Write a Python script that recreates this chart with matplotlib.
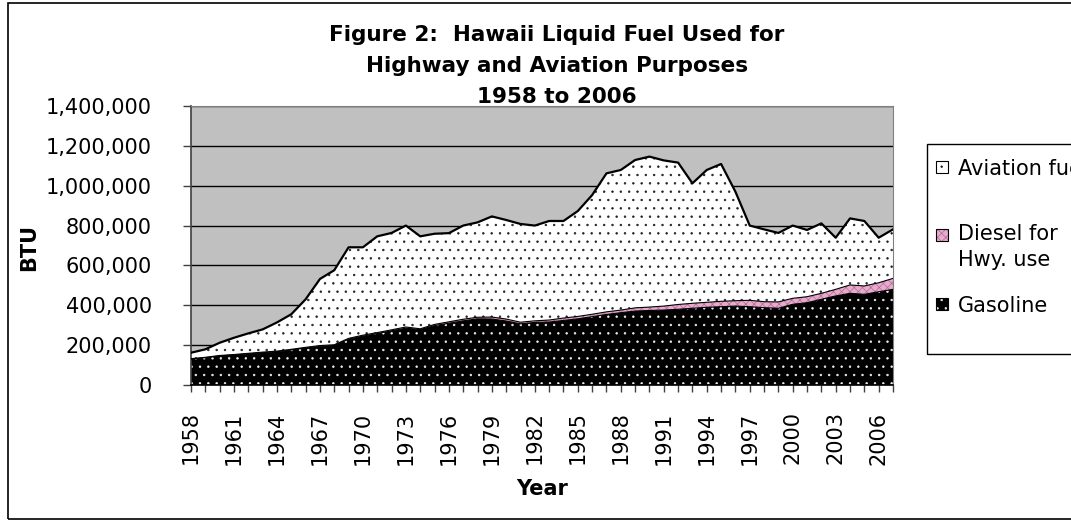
import numpy as np
import matplotlib
matplotlib.use("Agg")
import matplotlib.pyplot as plt
from matplotlib.patches import Rectangle
from matplotlib.ticker import FuncFormatter

# Hawaii liquid fuel, thousands of BTU units
years = np.arange(1958, 2008)
gasoline = [130, 137, 146, 151, 156, 162, 167, 176, 186, 194,
            198, 230, 245, 258, 272, 285, 278, 298, 310, 322,
            332, 331, 321, 307, 314, 316, 324, 332, 343, 354,
            363, 371, 374, 376, 380, 385, 390, 393, 396, 393,
            388, 385, 405, 413, 430, 447, 460, 455, 468, 480]
diesel = [2, 2, 2, 2, 3, 3, 3, 3, 3, 4,
          4, 4, 5, 5, 5, 6, 4, 6, 7, 8,
          8, 10, 10, 8, 8, 10, 12, 12, 12, 13,
          13, 16, 17, 20, 24, 25, 25, 27, 27, 32,
          30, 32, 30, 30, 30, 33, 42, 42, 45, 55]
aviation = [30, 40, 64, 84, 100, 114, 144, 176, 241, 334,
            374, 457, 441, 483, 486, 509, 464, 455, 445, 470,
            476, 505, 497, 493, 478, 497, 487, 529, 598, 695,
            703, 742, 755, 731, 712, 602, 664, 689, 547, 375,
            363, 346, 365, 335, 351, 259, 334, 326, 226, 246]

title_lines = ["Figure 2:  Hawaii Liquid Fuel Used for",
               "Highway and Aviation Purposes",
               "1958 to 2006"]
legend_labels = ["Aviation fuel", "Diesel for\nHwy. use", "Gasoline"]

gas = np.array(gasoline) * 1000
dsl = gas + np.array(diesel) * 1000
tot = dsl + np.array(aviation) * 1000

DPI = 100
W, H = 1071, 521
fx = lambda px: px / W
fy = lambda py: 1 - py / H

plt.rcParams['font.family'] = 'DejaVu Sans'
plt.rcParams['hatch.linewidth'] = 0.5

fig = plt.figure(figsize=(W / DPI, H / DPI), dpi=DPI)
ax = fig.add_axes([fx(191), fy(385), fx(893) - fx(191), fy(106) - fy(385)])
ax.set_facecolor('#C0C0C0')

gas_style = dict(facecolor='black', edgecolor='#f0f0f0', hatch='..', linewidth=0)
dsl_style = dict(facecolor='#E2AECB', edgecolor='#C0609A', hatch='xxxx', linewidth=0)
avi_style = dict(facecolor='white', edgecolor='#202020', hatch='..', linewidth=0)

ax.fill_between(years, 0, gas, zorder=2, **gas_style)
ax.fill_between(years, gas, dsl, zorder=2, **dsl_style)
ax.fill_between(years, dsl, tot, zorder=2, **avi_style)
ax.plot(years, tot, color='black', lw=1.6, zorder=3)
ax.plot(years, dsl, color='black', lw=0.8, zorder=3)
ax.plot(years, gas, color='black', lw=0.8, zorder=3)

ax.set_xlim(1958, 2007)
ax.set_ylim(0, 1400000)
ax.set_yticks(np.arange(0, 1400001, 200000))
ax.yaxis.set_major_formatter(FuncFormatter(lambda v, p: f"{v:,.0f}"))
ax.yaxis.grid(True, color='black', lw=1)
ax.set_axisbelow(True)

ax.set_xticks(years)
ax.set_xticklabels([str(y) if (y - 1958) % 3 == 0 else '' for y in years],
                   rotation=90)
ax.tick_params(axis='x', direction='out', length=5, width=1, pad=14,
               labelsize=15, color='#404040')
ax.tick_params(axis='y', direction='out', length=6, width=1, pad=22,
               labelsize=15, color='#404040')

for s in ['top', 'right']:
    ax.spines[s].set_color('#808080')
ax.spines['left'].set_color('#404040')
ax.spines['bottom'].set_color('black')
ax.spines['left'].set_linewidth(1.2)
ax.spines['bottom'].set_linewidth(1.2)

# titles
for line, base in zip(title_lines, [41, 72, 103]):
    fig.text(fx(557), fy(base), line, ha='center', va='baseline',
             fontsize=15.5, fontweight='bold')
fig.text(fx(29), fy(247), "BTU", rotation=90, ha='center', va='center',
         fontsize=15, fontweight='bold')
fig.text(fx(542), fy(489), "Year", ha='center', va='center',
         fontsize=15, fontweight='bold')

# chart border and legend box
fig.add_artist(Rectangle((fx(8), fy(519)), fx(1075) - fx(8), fy(3) - fy(519),
                         transform=fig.transFigure, fill=False,
                         edgecolor='black', lw=1.2))
fig.add_artist(Rectangle((fx(927), fy(354)), fx(1080) - fx(927), fy(144) - fy(354),
                         transform=fig.transFigure, fill=False,
                         edgecolor='black', lw=1))

for label, style, ty in zip(legend_labels, [avi_style, dsl_style, gas_style],
                            [167, 235, 304]):
    fig.add_artist(Rectangle((fx(936), fy(ty + 6)), fx(12), fy(0) - fy(12),
                             transform=fig.transFigure, zorder=5, **style))
    fig.add_artist(Rectangle((fx(936), fy(ty + 6)), fx(12), fy(0) - fy(12),
                             transform=fig.transFigure, fill=False,
                             edgecolor='black', lw=0.8, zorder=6))
    if '\n' in label:
        fig.text(fx(958), fy(ty - 11), label, ha='left', va='top',
                 fontsize=15, linespacing=1.35, zorder=6)
    else:
        fig.text(fx(958), fy(ty), label, ha='left', va='center_baseline',
                 fontsize=15, zorder=6)

fig.savefig("out.png", dpi=DPI)
